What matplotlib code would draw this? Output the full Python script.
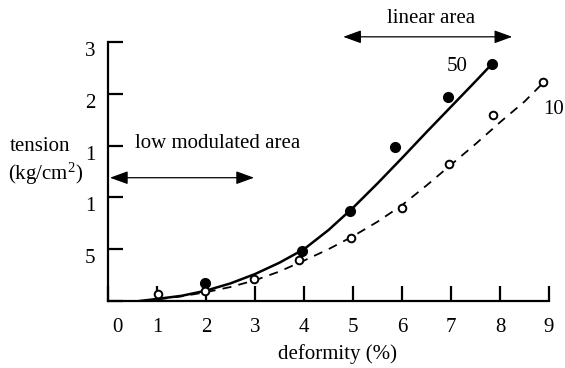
import matplotlib
matplotlib.use("Agg")
import matplotlib.pyplot as plt
from matplotlib.transforms import ScaledTranslation

plt.rcParams['font.family'] = ['Liberation Serif', 'DejaVu Serif']
plt.rcParams['mathtext.fontset'] = 'custom'
plt.rcParams['mathtext.rm'] = 'Liberation Serif'
plt.rcParams['mathtext.it'] = 'Liberation Serif:italic'

# data
x50 = [1.98, 3.96, 4.94, 5.86, 6.94, 7.84]
y50 = [0.35, 0.97, 1.74, 2.97, 3.94, 4.58]
x10 = [1.02, 1.98, 2.98, 3.90, 4.96, 6.00, 6.96, 7.86, 8.88]
y10 = [0.14, 0.19, 0.42, 0.79, 1.22, 1.80, 2.64, 3.59, 4.23]
# fitted curves
cx50 = [0.65, 1.0, 1.5, 2.0, 2.5, 3.0, 3.5, 4.0, 4.5, 5.0, 5.5, 6.0, 6.5, 7.0, 7.5, 7.84]
cy50 = [0.0, 0.04, 0.10, 0.20, 0.34, 0.52, 0.74, 1.00, 1.37, 1.80, 2.27, 2.76, 3.26, 3.75, 4.24, 4.58]
cx10 = [0.7, 1.0, 1.5, 2.0, 2.5, 3.0, 3.5, 4.0, 4.5, 5.0, 5.5, 6.0, 6.5, 7.0, 7.5, 8.0, 8.5, 8.9]
cy10 = [0.0, 0.03, 0.09, 0.17, 0.27, 0.40, 0.57, 0.78, 1.00, 1.25, 1.53, 1.85, 2.23, 2.63, 3.03, 3.45, 3.85, 4.23]
xticks = [0, 1, 2, 3, 4, 5, 6, 7, 8, 9]
yticks = [0, 1, 2, 3, 4, 5]
ylabels = ['', '5', '1', '1', '2', '3']

FS = 15
W, H = 565, 368
fig = plt.figure(figsize=(W / 100, H / 100), dpi=100)
ax = fig.add_axes([108 / W, (H - 301) / H, (549 - 108) / W, (301 - 42) / H])
ax.set_xlim(0, 9)
ax.set_ylim(0, 5)

ax.plot(cx50, cy50, '-', color='black', lw=1.8, zorder=2, solid_joinstyle='round')
ax.plot(cx10, cy10, '--', color='black', lw=1.3, dashes=(5, 4), zorder=2)
ax.plot(x50, y50, 'o', color='black', ms=7, zorder=3, clip_on=False)
ax.plot(x10, y10, 'o', mfc='white', mec='black', mew=1.4, ms=5.5, zorder=3, clip_on=False)

for s in ['top', 'right']:
    ax.spines[s].set_visible(False)
for s in ['left', 'bottom']:
    ax.spines[s].set_linewidth(1.6)

ax.set_xticks(xticks)
ax.set_xticklabels([str(v) for v in xticks])
ax.set_yticks(yticks)
ax.set_yticklabels(ylabels)
ax.tick_params(axis='both', direction='in', length=11, width=1.6, labelsize=FS)
ax.tick_params(axis='x', pad=12)
ax.tick_params(axis='y', pad=9)

for lab in ax.get_yticklabels():
    lab.set_transform(lab.get_transform() + ScaledTranslation(0, -7 / 100, fig.dpi_scale_trans))
xl = ax.get_xticklabels()
xl[0].set_transform(xl[0].get_transform() + ScaledTranslation(9 / 100, 0, fig.dpi_scale_trans))

ax.set_xlabel('deformity (%)', fontsize=FS)
ax.xaxis.set_label_coords(0.52, -0.165)

fig.text(10 / W, 1 - 147 / H, 'tension', fontsize=FS, va='center', ha='left')
fig.text(8 / W, 1 - 174 / H, '(kg/cm$^{2}$)', fontsize=FS, va='center', ha='left')

ax.text(0.55, 3.05, 'low modulated area', fontsize=FS, va='center', ha='left')
ax.annotate('', xy=(0.04, 2.38), xytext=(2.98, 2.38),
            arrowprops=dict(arrowstyle='<|-|>,head_length=1.1,head_width=0.4', color='black', lw=0.9,
                            shrinkA=0, shrinkB=0), annotation_clip=False)

ax.text(6.6, 5.45, 'linear area', fontsize=FS, va='center', ha='center', clip_on=False)
ax.annotate('', xy=(4.8, 5.10), xytext=(8.25, 5.10),
            arrowprops=dict(arrowstyle='<|-|>,head_length=1.1,head_width=0.4', color='black', lw=0.9,
                            shrinkA=0, shrinkB=0), annotation_clip=False)

ax.text(7.13, 4.53, '50', fontsize=FS, va='center', ha='center')
ax.text(9.1, 3.70, '10', fontsize=FS, va='center', ha='center', clip_on=False)

fig.savefig('out.png', dpi=100)
